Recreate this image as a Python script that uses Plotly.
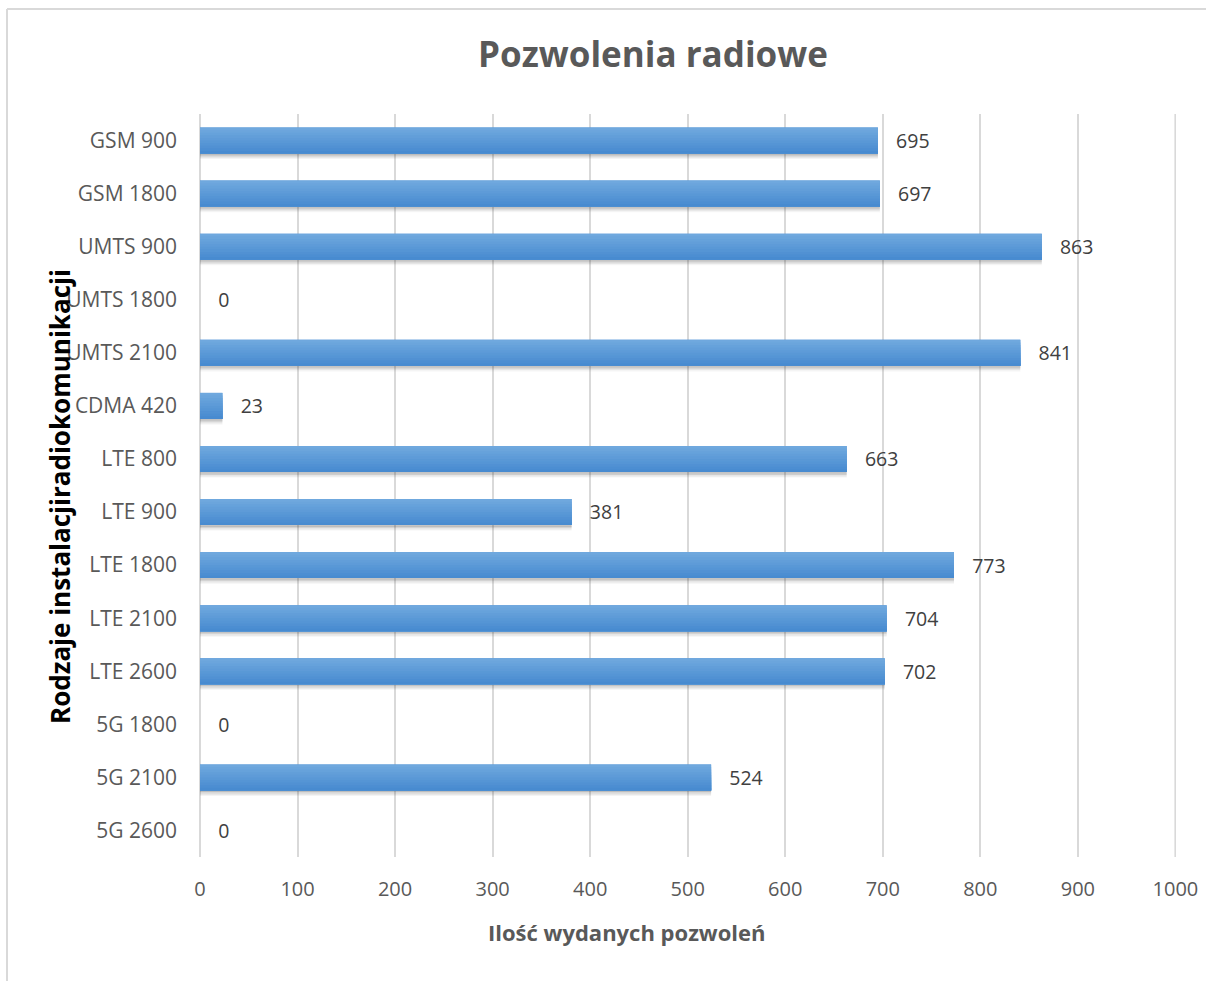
import plotly.graph_objects as go

# Radio permit counts per installation type
categories = [
    "GSM 900", "GSM 1800", "UMTS 900", "UMTS 1800", "UMTS 2100", "CDMA 420",
    "LTE 800", "LTE 900", "LTE 1800", "LTE 2100", "LTE 2600",
    "5G 1800", "5G 2100", "5G 2600",
]
permits = [695, 697, 863, 0, 841, 23, 663, 381, 773, 704, 702, 0, 524, 0]
x_ticks = [0, 100, 200, 300, 400, 500, 600, 700, 800, 900, 1000]

W, H = 1206, 981
ML, MR, MT, MB = 200, 30, 114, 124
PW, PH = W - ML - MR, H - MT - MB


def px_x(px):
    return (px - ML) / PW


def px_y(py):
    return (H - MB - py) / PH


BAR_W = 0.49
FONT = "Open Sans"
GRID = "#d9d9d9"

fig = go.Figure()

# soft drop shadow beneath each bar
shadow_steps = [(0.00, 0.30), (0.025, 0.20), (0.05, 0.12), (0.075, 0.06)]
for off, a in shadow_steps:
    fig.add_trace(go.Bar(
        y=categories, x=permits, orientation="h",
        width=0.03, offset=BAR_W / 2 + off,
        marker=dict(color=f"rgba(60,60,60,{a})", line=dict(width=0)),
        hoverinfo="skip", showlegend=False,
    ))

# base bar carrying the value labels
fig.add_trace(go.Bar(
    y=categories, x=permits, orientation="h",
    width=BAR_W, offset=-BAR_W / 2,
    marker=dict(color="#4a8dd2", line=dict(width=0)),
    text=permits, texttemplate="   %{x}", textposition="outside",
    textfont=dict(family=FONT, size=21, color="#404040"),
    cliponaxis=False, showlegend=False,
))

# vertical gradient: each layer runs from its top edge down to the bar bottom
top_rgb = (111, 168, 222)
bot_rgb = (72, 139, 208)
n = 10
step = BAR_W / n
for k in range(n):
    t = k / (n - 1)
    c = tuple(round(top_rgb[i] + (bot_rgb[i] - top_rgb[i]) * t) for i in range(3))
    fig.add_trace(go.Bar(
        y=categories, x=permits, orientation="h",
        width=BAR_W - k * step, offset=-BAR_W / 2 + k * step,
        marker=dict(color=f"rgb{c}", line=dict(width=0)),
        hoverinfo="skip", showlegend=False,
    ))

fig.update_layout(
    width=W, height=H,
    margin=dict(l=ML, r=MR, t=MT, b=MB, autoexpand=False),
    paper_bgcolor="white", plot_bgcolor="white",
    barmode="overlay",
    title=dict(
        text="<b>Pozwolenia radiowe</b>",
        x=653 / W, xanchor="center",
        y=1 - 55 / H, yanchor="middle",
        font=dict(family=FONT, size=35, color="#595959"),
    ),
    xaxis=dict(
        range=[0, 1000.6], tickvals=x_ticks,
        showgrid=True, gridcolor=GRID, gridwidth=2,
        zeroline=True, zerolinecolor=GRID, zerolinewidth=2,
        showline=False, ticks="", ticklabelstandoff=18,
        tickfont=dict(family=FONT, size=20, color="#595959"),
        automargin=False,
    ),
    yaxis=dict(
        autorange="reversed", showgrid=False, zeroline=False,
        showline=False, ticks="", ticklabelstandoff=22,
        tickfont=dict(family=FONT, size=21, color="#595959"),
        automargin=False,
    ),
    annotations=[
        dict(
            text="<b>Ilość wydanych pozwoleń</b>",
            xref="paper", yref="paper", x=px_x(627), y=px_y(932),
            xanchor="center", yanchor="middle", showarrow=False,
            font=dict(family=FONT, size=22, color="#595959"),
        ),
        dict(
            text="<b>Rodzaje instalacjiradiokomunikacji</b>",
            xref="paper", yref="paper", x=px_x(60), y=px_y(497),
            xanchor="center", yanchor="middle", showarrow=False,
            textangle=-90,
            font=dict(family=FONT, size=26, color="#000000"),
        ),
    ],
    shapes=[
        # gridline at the last tick, on the right edge of the plot area
        dict(type="line", xref="x", yref="paper", layer="below",
             x0=x_ticks[-1], x1=x_ticks[-1], y0=0, y1=1,
             line=dict(color=GRID, width=2)),
        # chart frame (top and left edges)
        dict(type="line", xref="paper", yref="paper",
             x0=px_x(7), y0=px_y(9), x1=px_x(W), y1=px_y(9),
             line=dict(color=GRID, width=2)),
        dict(type="line", xref="paper", yref="paper",
             x0=px_x(7), y0=px_y(9), x1=px_x(7), y1=px_y(H),
             line=dict(color=GRID, width=2)),
    ],
)

fig.write_html("out.html")
